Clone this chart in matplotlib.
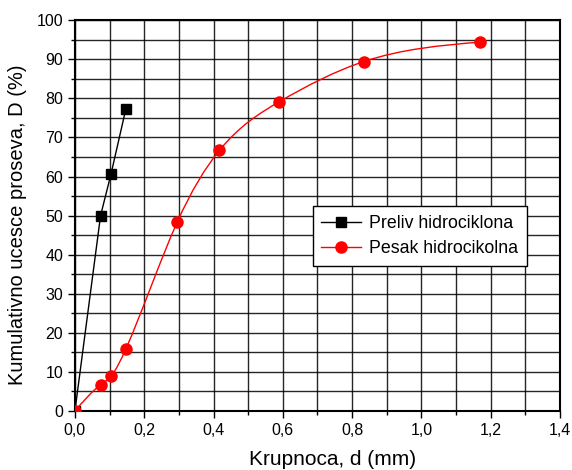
import numpy as np
import matplotlib
matplotlib.use("Agg")
import matplotlib.pyplot as plt
from matplotlib.path import Path
from matplotlib.patches import PathPatch
from matplotlib.ticker import MultipleLocator, FuncFormatter
from matplotlib.lines import Line2D

plt.rcParams["font.family"] = ["Liberation Sans", "DejaVu Sans"]

# ── Data ──────────────────────────────────────────────────────────────────────

preliv_d = [0.0, 0.074, 0.104, 0.147]
preliv_D = [0.0, 50.0, 60.6, 77.3]

pesak_d = [0.0, 0.074, 0.104, 0.147, 0.295, 0.417, 0.589, 0.833, 1.168]
pesak_D = [0.0, 6.7, 8.9, 15.9, 48.3, 66.7, 79.1, 89.4, 94.4]

# ── Helpers ───────────────────────────────────────────────────────────────────

def spline_slopes(x, y):
    # knot slopes of a natural cubic spline
    n = len(x)
    h = np.diff(x)
    A = np.zeros((n, n))
    r = np.zeros(n)
    A[0, 0] = A[-1, -1] = 1
    for i in range(1, n - 1):
        A[i, i - 1] = h[i - 1]
        A[i, i] = 2 * (h[i - 1] + h[i])
        A[i, i + 1] = h[i]
        r[i] = 6 * ((y[i + 1] - y[i]) / h[i] - (y[i] - y[i - 1]) / h[i - 1])
    M = np.linalg.solve(A, r)
    m = np.empty(n)
    m[:-1] = np.diff(y) / h - h * (2 * M[:-1] + M[1:]) / 6
    m[-1] = (y[-1] - y[-2]) / h[-1] + h[-1] * (M[-2] + 2 * M[-1]) / 6
    return m

def smooth_path(x, y):
    x = np.asarray(x, float)
    y = np.asarray(y, float)
    m = spline_slopes(x, y)
    h = np.diff(x)
    verts = [(x[0], y[0])]
    codes = [Path.MOVETO]
    for i in range(len(x) - 1):
        t = h[i] / 3
        verts += [(x[i] + t, y[i] + t * m[i]),
                  (x[i + 1] - t, y[i + 1] - t * m[i + 1]),
                  (x[i + 1], y[i + 1])]
        codes += [Path.CURVE4] * 3
    return Path(verts, codes)

# ── Figure ────────────────────────────────────────────────────────────────────

fig = plt.figure(figsize=(5.72, 4.70), dpi=100)
ax = fig.add_axes([0.131, 0.1255, 0.848, 0.8315])

ax.set_xlim(0, 1.4)
ax.set_ylim(0, 100)
ax.xaxis.set_major_locator(MultipleLocator(0.2))
ax.xaxis.set_minor_locator(MultipleLocator(0.1))
ax.yaxis.set_major_locator(MultipleLocator(10))
ax.yaxis.set_minor_locator(MultipleLocator(5))
ax.xaxis.set_major_formatter(FuncFormatter(lambda v, p: f"{v:.1f}".replace(".", ",")))

ax.grid(True, which="both", color="black", linewidth=1.0, alpha=0.85)
ax.set_axisbelow(True)
for s in ax.spines.values():
    s.set_linewidth(1.5)
ax.tick_params(which="major", direction="out", length=5, width=1, labelsize=11.5, colors="black")
ax.tick_params(which="minor", direction="out", length=3, width=1)

ax.plot(preliv_d, preliv_D, color="black", lw=1, marker="s", ms=7, zorder=3)

ax.add_patch(PathPatch(smooth_path(pesak_d, pesak_D), facecolor="none",
                       edgecolor="red", lw=1, zorder=3))
ax.plot(pesak_d, pesak_D, color="red", ls="none", marker="o", ms=8, zorder=4)

handles = [
    Line2D([], [], color="black", lw=1, marker="s", ms=7),
    Line2D([], [], color="red", lw=1, marker="o", ms=8),
]
leg = ax.legend(handles, ["Preliv hidrociklona", "Pesak hidrocikolna"],
                loc="upper left", bbox_to_anchor=(0.49, 0.525),
                fontsize=12.8, frameon=True, fancybox=False, framealpha=1,
                edgecolor="black", handlelength=2.2, handletextpad=0.5,
                borderpad=0.5, labelspacing=0.45, borderaxespad=0)
leg.get_frame().set_linewidth(1)

ax.set_xlabel("Krupnoca, d (mm)", fontsize=15, va="center")
ax.xaxis.set_label_coords(0.532, -0.125)
ax.set_ylabel("Kumulativno ucesce proseva, D (%)", fontsize=14.5, va="center")
ax.yaxis.set_label_coords(-0.1175, 0.476)

fig.savefig("out.png", dpi=100)
